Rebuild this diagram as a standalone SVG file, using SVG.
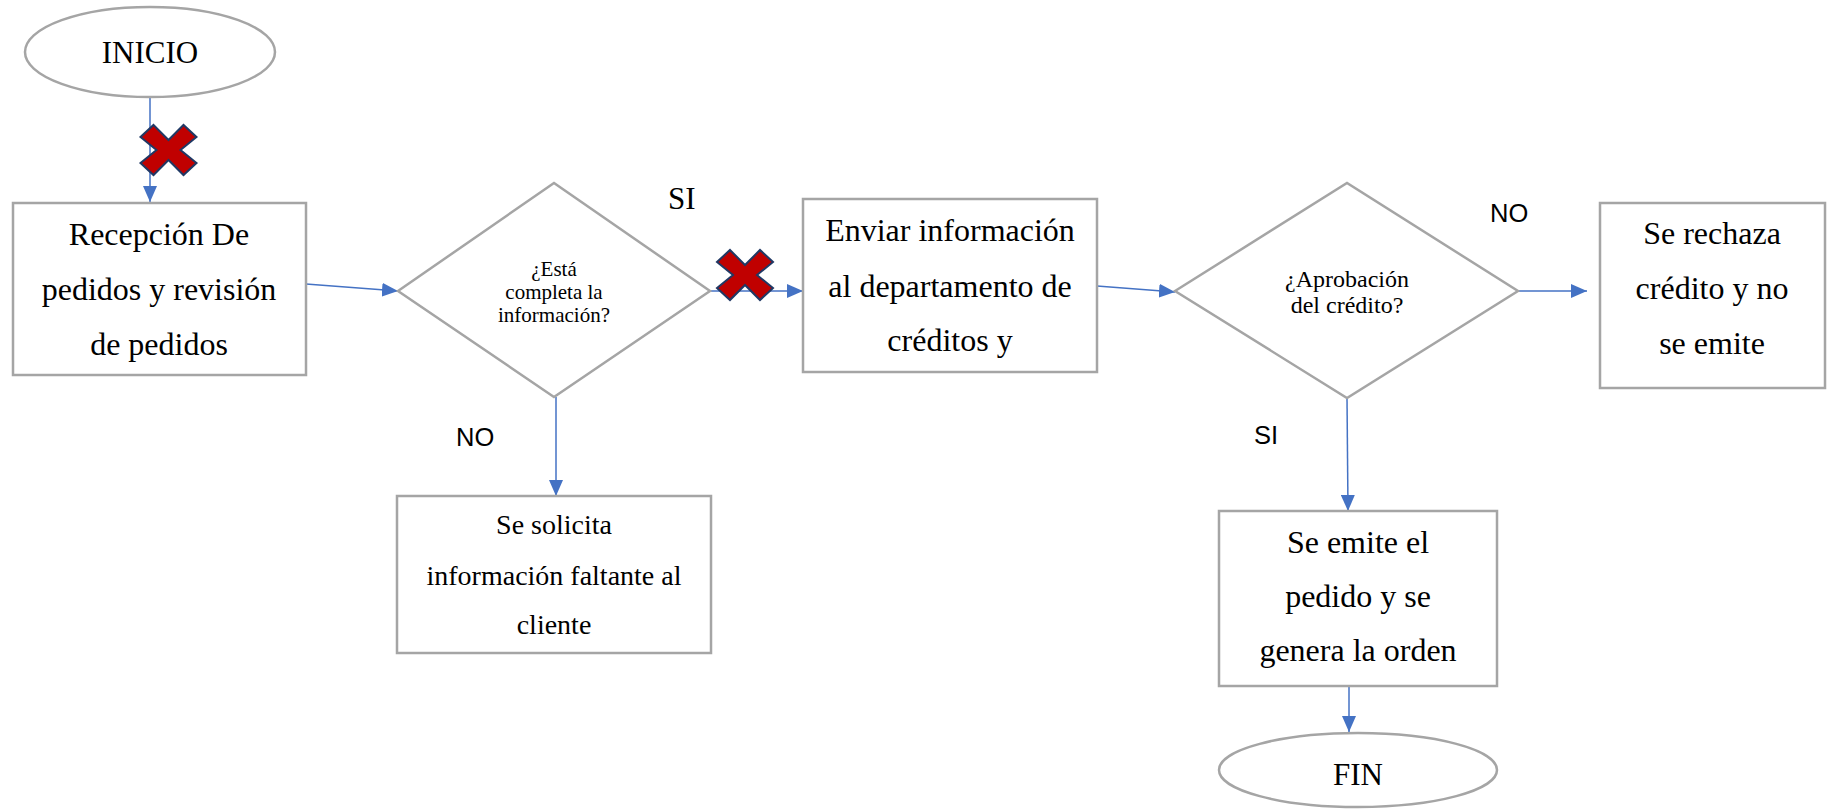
<svg xmlns="http://www.w3.org/2000/svg" width="1830" height="810" viewBox="0 0 1830 810">
  <style>
    .shape { fill: #FFFFFF; stroke: #A5A5A5; stroke-width: 2.5; }
    .lbl { font-family: "Liberation Serif", "Times New Roman", serif; fill: #000000; text-anchor: middle; }
    .big { font-size: 32px; }
    .mid { font-size: 28px; }
    .dec { font-size: 21px; }
    .dec2 { font-size: 24px; }
    .term { font-size: 31px; }
    .tag { font-family: "Liberation Sans", Arial, sans-serif; font-size: 25.5px; fill: #000000; }
    .tagS { font-family: "Liberation Serif", "Times New Roman", serif; font-size: 31px; fill: #000000; }
    .conn { stroke: #4472C4; stroke-width: 1.5; fill: none; marker-end: url(#arrow); }
    .cross { fill: #C00000; stroke: #203864; stroke-width: 2; stroke-linejoin: miter; }
  </style>
  <defs>
    <marker id="arrow" viewBox="0 0 16 14" refX="16" refY="7" markerWidth="16" markerHeight="14" markerUnits="userSpaceOnUse" orient="auto">
      <path d="M0,0 L16,7 L0,14 Z" fill="#4472C4"/>
    </marker>
    <polygon id="xmark" points="-15,-25 0,-10 15,-25 28,-13 12,0 28,13 15,25 0,10 -15,25 -28,13 -12,0 -28,-13"/>
  </defs>

  <rect width="1830" height="810" fill="#FFFFFF"/>

  <!-- connectors -->
  <g id="connectors">
    <line class="conn" x1="150" y1="98" x2="150" y2="202"/>
    <line class="conn" x1="306" y1="284" x2="398" y2="291"/>
    <line class="conn" x1="710" y1="291" x2="803" y2="291"/>
    <line class="conn" x1="1097" y1="286" x2="1175" y2="292"/>
    <line class="conn" x1="1518" y1="291" x2="1587" y2="291"/>
    <line class="conn" x1="556" y1="397" x2="556" y2="496"/>
    <line class="conn" x1="1347" y1="398" x2="1348" y2="511"/>
    <line class="conn" x1="1349" y1="686" x2="1349" y2="732"/>
  </g>

  <!-- start -->
  <g id="inicio">
    <ellipse class="shape" cx="150" cy="52" rx="125" ry="45"/>
    <text class="lbl term" x="150" y="63">INICIO</text>
  </g>

  <g id="recepcion">
    <rect class="shape" x="13" y="203" width="293" height="172"/>
    <text class="lbl big" x="159" y="245">Recepción De</text>
    <text class="lbl big" x="159" y="300">pedidos y revisión</text>
    <text class="lbl big" x="159" y="355">de pedidos</text>
  </g>

  <g id="decision-completa">
    <polygon class="shape" points="398,291 554,183 710,291 554,397"/>
    <text class="lbl dec" x="554" y="276">¿Está</text>
    <text class="lbl dec" x="554" y="299">completa la</text>
    <text class="lbl dec" x="554" y="322">información?</text>
  </g>

  <g id="enviar">
    <rect class="shape" x="803" y="199" width="294" height="173"/>
    <text class="lbl big" x="950" y="241">Enviar información</text>
    <text class="lbl big" x="950" y="297">al departamento de</text>
    <text class="lbl big" x="950" y="351">créditos y</text>
  </g>

  <g id="decision-credito">
    <polygon class="shape" points="1175,291 1347,183 1518,291 1347,398"/>
    <text class="lbl dec2" x="1347" y="287">¿Aprobación</text>
    <text class="lbl dec2" x="1347" y="313">del crédito?</text>
  </g>

  <g id="rechaza">
    <rect class="shape" x="1600" y="203" width="225" height="185"/>
    <text class="lbl big" x="1712" y="244">Se rechaza</text>
    <text class="lbl big" x="1712" y="299">crédito y no</text>
    <text class="lbl big" x="1712" y="354">se emite</text>
  </g>

  <g id="solicita">
    <rect class="shape" x="397" y="496" width="314" height="157"/>
    <text class="lbl mid" x="554" y="534">Se solicita</text>
    <text class="lbl mid" x="554" y="585">información faltante al</text>
    <text class="lbl mid" x="554" y="634">cliente</text>
  </g>

  <g id="emite">
    <rect class="shape" x="1219" y="511" width="278" height="175"/>
    <text class="lbl big" x="1358" y="553">Se emite el</text>
    <text class="lbl big" x="1358" y="607">pedido y se</text>
    <text class="lbl big" x="1358" y="661">genera la orden</text>
  </g>

  <g id="fin">
    <ellipse class="shape" cx="1358" cy="770" rx="139" ry="37"/>
    <text class="lbl term" x="1358" y="785">FIN</text>
  </g>

  <!-- branch labels -->
  <g id="labels">
    <text class="tagS" x="668" y="209">SI</text>
    <text class="tag" x="456" y="446">NO</text>
    <text class="tag" x="1490" y="222">NO</text>
    <text class="tag" x="1254" y="444">SI</text>
  </g>

  <!-- cross marks over the links -->
  <g id="marks">
    <use href="#xmark" class="cross" transform="translate(168.5,150)"/>
    <use href="#xmark" class="cross" transform="translate(745,275)"/>
  </g>
</svg>
